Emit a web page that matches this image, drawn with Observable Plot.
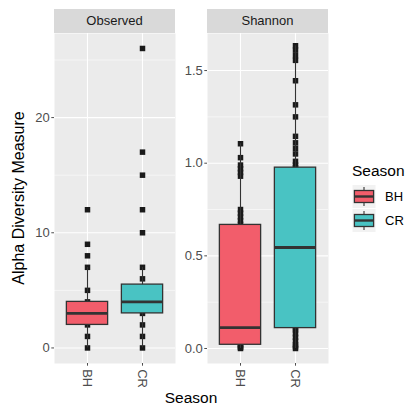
<!DOCTYPE html>
<html><head><meta charset="utf-8">
<script src="https://cdn.jsdelivr.net/npm/d3@7"></script>
<script src="https://cdn.jsdelivr.net/npm/@observablehq/plot@0.6"></script>
<style>
body{margin:0;background:#fff;font-family:"Liberation Sans",Arial,Helvetica,sans-serif;}
#root{position:relative;width:406px;height:406px;overflow:hidden;background:#fff;}
.strip{position:absolute;background:#D9D9D9;color:#1A1A1A;font-size:13px;display:flex;align-items:center;justify-content:center;}
.plot{position:absolute;top:33px;}
#overlay{position:absolute;left:0;top:0;}
</style></head><body><div id="root"></div>
<script>
// ---- data ----
const seasons = ["BH", "CR"];
const seasonColors = ["#F25D6B", "#49C3C3"];
const facetNames = ["Observed", "Shannon"];

// individual sample values (points)
const observedBH = [0, 1, 2, 3, 4, 5, 7, 8, 9, 12];
const observedCR = [0, 1, 2, 3, 4, 5, 6, 7, 10, 12, 15, 17, 26];
const shannonBH = [0, 0.005, 0.01, 0.02, 0.05, 0.11, 0.3, 0.5, 0.67, 0.69, 0.71, 0.73, 0.75, 0.93, 0.95, 0.97, 0.99, 1.03, 1.105];
const shannonCR = [0, 0.01, 0.02, 0.04, 0.06, 0.08, 0.1, 0.11, 0.3, 0.545, 0.8, 0.976, 0.99, 1.01, 1.05, 1.08, 1.11, 1.145, 1.25, 1.315, 1.445, 1.555, 1.58, 1.61, 1.634];

// box statistics: [lower whisker, Q1, median, Q3, upper whisker]
const observedBoxBH = [0, 2, 3, 4, 7];
const observedBoxCR = [0, 3, 4, 5.5, 7];
const shannonBoxBH = [0, 0.02, 0.113, 0.667, 1.105];
const shannonBoxCR = [0, 0.11, 0.545, 0.976, 1.634];

// axis ticks
const observedTicks = [0, 10, 20];
const observedMinor = [5, 15, 25];
const shannonTicks = [0, 0.5, 1.0, 1.5];
const shannonMinor = [0.25, 0.75, 1.25];
const observedDomain = [-1.35, 27.3];
const shannonDomain = [-0.081, 1.70];

// ---- build tables ----
const toPoints = (arrs) => arrs.flatMap((a, i) => a.map(v => ({season: seasons[i], value: v})));
const toBoxes = (arrs) => arrs.map((b, i) => ({season: seasons[i], lo: b[0], q1: b[1], med: b[2], q3: b[3], hi: b[4]}));

const root = document.getElementById("root");
const FONT = '"Liberation Sans", Arial, Helvetica, sans-serif';
const PANEL_W = 121, PANEL_H = 330;

function panel({points, boxes, domain, ticks, minor, fmt, marginLeft, left}) {
  const chart = Plot.plot({
    width: marginLeft + PANEL_W + 3,
    height: PANEL_H + 30,
    marginLeft, marginRight: 3, marginTop: 0, marginBottom: 30,
    style: {background: "transparent", fontFamily: FONT, fontSize: "13px", color: "#4D4D4D", overflow: "visible"},
    x: {type: "band", domain: seasons, paddingInner: 0.25, paddingOuter: 0.225, round: false},
    y: {domain, inset: 0},
    color: {domain: seasons, range: seasonColors},
    marks: [
      Plot.frame({fill: "#EBEBEB", stroke: "none"}),
      Plot.ruleY(minor, {y: d => d, stroke: "white", strokeWidth: 0.55}),
      Plot.ruleY(ticks, {y: d => d, stroke: "white", strokeWidth: 1.1}),
      Plot.ruleX(seasons, {x: d => d, stroke: "white", strokeWidth: 1.1}),
      Plot.dot(points, {x: "season", y: "value", symbol: "square", r: 3.1, fill: "#1A1A1A", stroke: "none"}),
      Plot.ruleX(boxes, {x: "season", y1: "lo", y2: "hi", stroke: "#333333", strokeWidth: 1.1}),
      Plot.barY(boxes, {x: "season", y1: "q1", y2: "q3", fill: "season", stroke: "#333333", strokeWidth: 1.3}),
      Plot.tickY(boxes, {x: "season", y: "med", stroke: "#333333", strokeWidth: 2.8}),
      Plot.axisY(ticks, {tickSize: 2.7, tickPadding: 2, tickFormat: fmt, label: null, color: "#4D4D4D", fontSize: 13}),
      Plot.axisX({tickSize: 2.7, tickPadding: 3, tickRotate: 90, label: null, color: "#4D4D4D", fontSize: 13})
    ]
  });
  chart.classList.add("plot");
  chart.style.left = left + "px";
  root.appendChild(chart);
}

panel({
  points: toPoints([observedBH, observedCR]),
  boxes: toBoxes([observedBoxBH, observedBoxCR]),
  domain: observedDomain, ticks: observedTicks, minor: observedMinor,
  fmt: d3.format("d"), marginLeft: 54, left: 0
});
panel({
  points: toPoints([shannonBH, shannonCR]),
  boxes: toBoxes([shannonBoxBH, shannonBoxCR]),
  domain: shannonDomain, ticks: shannonTicks, minor: shannonMinor,
  fmt: d3.format(".1f"), marginLeft: 32, left: 175
});

// facet strips
[[54, facetNames[0]], [207, facetNames[1]]].forEach(([x, name]) => {
  const s = document.createElement("div");
  s.className = "strip";
  s.style.left = x + "px"; s.style.top = "8.5px";
  s.style.width = PANEL_W + "px"; s.style.height = "24.5px";
  s.textContent = name;
  root.appendChild(s);
});

// titles and legend
const ns = "http://www.w3.org/2000/svg";
const ov = d3.select(root).append("svg").attr("id", "overlay").attr("width", 406).attr("height", 406)
  .style("font-family", FONT);
ov.append("text").attr("transform", "translate(24,198) rotate(-90)").attr("text-anchor", "middle")
  .attr("font-size", 16).attr("fill", "#000").text("Alpha Diversity Measure");
ov.append("text").attr("x", 191).attr("y", 403).attr("text-anchor", "middle")
  .attr("font-size", 15.5).attr("fill", "#000").text("Season");
ov.append("text").attr("x", 352).attr("y", 176).attr("font-size", 15.5).attr("fill", "#000").text("Season");
seasons.forEach((s, i) => {
  const y0 = 184.5 + i * 24, x0 = 352, k = 24;
  const g = ov.append("g");
  g.append("rect").attr("x", x0).attr("y", y0).attr("width", k).attr("height", k).attr("fill", "#F2F2F2").attr("stroke", "white");
  g.append("line").attr("x1", x0 + k / 2).attr("x2", x0 + k / 2).attr("y1", y0 + k * 0.1).attr("y2", y0 + k * 0.9).attr("stroke", "#333").attr("stroke-width", 1.1);
  g.append("rect").attr("x", x0 + k * 0.1).attr("y", y0 + k * 0.25).attr("width", k * 0.8).attr("height", k * 0.5)
    .attr("fill", seasonColors[i]).attr("stroke", "#333").attr("stroke-width", 1.3);
  g.append("line").attr("x1", x0 + k * 0.1).attr("x2", x0 + k * 0.9).attr("y1", y0 + k / 2).attr("y2", y0 + k / 2).attr("stroke", "#333").attr("stroke-width", 2.4);
  g.append("text").attr("x", 385).attr("y", y0 + k / 2).attr("dy", "0.35em").attr("font-size", 13).attr("fill", "#000").text(s);
});
</script></body></html>
